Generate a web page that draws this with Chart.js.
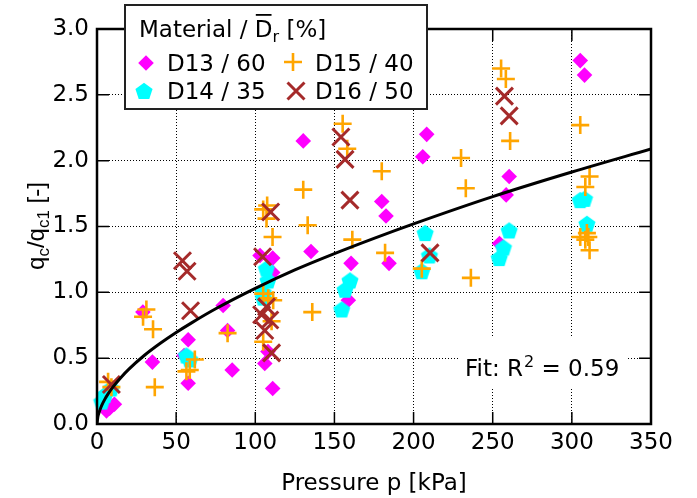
<!DOCTYPE html>
<html><head><meta charset="utf-8">
<script src="https://cdn.jsdelivr.net/npm/chart.js@4/dist/chart.umd.min.js"></script>
<style>html,body{margin:0;padding:0;background:#fff;overflow:hidden}</style>
</head><body>
<canvas id="c" width="697" height="498"></canvas>
<script>
// ---- data ----
const xTicks = [0, 50, 100, 150, 200, 250, 300, 350];
const yTicks = [0.0, 0.5, 1.0, 1.5, 2.0, 2.5, 3.0];

const d13P = [6, 8, 11, 29, 35, 55, 57.6, 57.6, 79.7, 82.5, 85.4, 103, 111, 111, 108, 106, 111, 130.3, 135.2, 160.5, 158.8, 179.9, 182.6, 184.5, 208.3, 205.8, 260.4, 258.5, 254.3, 305.3, 308];
const d13Q = [0.10, 0.12, 0.15, 0.85, 0.47, 0.52, 0.64, 0.31, 0.90, 0.71, 0.41, 1.28, 1.26, 1.15, 0.55, 0.46, 0.27, 2.15, 1.31, 1.22, 0.94, 1.69, 1.58, 1.22, 2.20, 2.03, 1.88, 1.74, 1.37, 2.76, 2.65];

const d14P = [3, 5, 9, 56.5, 58.6, 107, 108, 105, 105, 159.8, 156.7, 154.6, 207.3, 210, 205.2, 260.4, 256.8, 254.1, 305.3, 308, 309.5];
const d14Q = [0.17, 0.22, 0.27, 0.52, 0.49, 1.18, 1.09, 1.00, 0.96, 1.09, 1.02, 0.87, 1.45, 1.28, 1.16, 1.47, 1.34, 1.26, 1.70, 1.71, 1.52];

const d15P = [7, 9.1, 31.2, 29.1, 35.4, 36.5, 56.5, 58.6, 61.8, 82.5, 105, 107.5, 107.1, 110.9, 108.2, 111.3, 105, 110.3, 105, 136, 130.3, 133.1, 155.2, 158.1, 161.3, 179.9, 182, 205.2, 230, 233, 236.2, 255.3, 258.3, 261, 305.3, 311.2, 308.5, 305.3, 308.5, 310.4, 311.2, 309.5];
const d15Q = [0.32, 0.28, 0.87, 0.815, 0.72, 0.28, 0.40, 0.41, 0.49, 0.69, 1.63, 1.66, 1.56, 1.42, 0.955, 0.94, 0.99, 0.78, 0.625, 0.85, 1.78, 1.51, 2.28, 2.09, 1.40, 1.92, 1.30, 1.18, 2.02, 1.79, 1.11, 2.70, 2.62, 2.15, 2.27, 1.88, 1.80, 1.42, 1.40, 1.42, 1.32, 1.45];

const d16P = [9.1, 54, 56.9, 59.1, 109.7, 104.6, 107.1, 104, 109.2, 106, 110.3, 154.1, 156.7, 159.8, 210.4, 257.4, 260.4];
const d16Q = [0.30, 1.24, 1.16, 0.86, 1.61, 1.27, 0.89, 0.83, 0.79, 0.71, 0.54, 2.18, 2.01, 1.70, 1.30, 2.49, 2.34];

// fit curve, points
const fitP = [0, 0.5, 1, 2, 3, 5, 7, 10, 15, 20, 30, 40, 50, 60, 75, 100, 125, 150, 175, 200, 250, 300, 350];
const fitQ = [0, 0.052, 0.076, 0.112, 0.142, 0.189, 0.229, 0.280, 0.352, 0.415, 0.522, 0.613, 0.695, 0.770, 0.875, 1.030, 1.170, 1.294, 1.410, 1.520, 1.727, 1.914, 2.089];

const seriesLabels = ['D13 / 60', 'D14 / 35', 'D15 / 40', 'D16 / 50'];

// ---- styling ----
const FONT = '"DejaVu Sans", sans-serif';
const FONT2 = '"Liberation Sans", Arial, sans-serif';
const FS = 23;
const pts = (ps, qs) => ps.map((p, i) => ({x: p, y: qs[i]}));

const pent = document.createElement('canvas');
pent.width = 20; pent.height = 20;
(function(){
  const g = pent.getContext('2d');
  g.fillStyle = '#00ffff';
  g.beginPath();
  for (let k = 0; k < 5; k++) {
    const a = -Math.PI / 2 + k * 2 * Math.PI / 5;
    const x = 10 + 9 * Math.cos(a), y = 10.8 + 9 * Math.sin(a);
    k ? g.lineTo(x, y) : g.moveTo(x, y);
  }
  g.closePath(); g.fill();
})();

const styles = [
  {pointStyle: 'rectRot', radius: 7.8, fill: '#ff00ff', stroke: '#ff00ff', bw: 0},
  {pointStyle: pent, radius: 9, fill: '#00ffff', stroke: '#00ffff', bw: 0},
  {pointStyle: 'cross', radius: 9, fill: '#ffa500', stroke: '#ffa500', bw: 2.6},
  {pointStyle: 'crossRot', radius: 12, fill: '#a52a2a', stroke: '#a52a2a', bw: 3}
];
const series = [pts(d13P, d13Q), pts(d14P, d14Q), pts(d15P, d15Q), pts(d16P, d16Q)];

const datasets = series.map((data, i) => ({
  label: seriesLabels[i],
  data,
  pointStyle: styles[i].pointStyle,
  pointRadius: styles[i].radius,
  pointHoverRadius: styles[i].radius,
  backgroundColor: styles[i].fill,
  borderColor: styles[i].stroke,
  borderWidth: styles[i].bw,
  showLine: false,
  clip: false,
  order: 4 - i
}));
datasets.push({
  label: 'fit',
  data: pts(fitP, fitQ),
  showLine: true,
  borderColor: '#000',
  borderWidth: 3,
  pointRadius: 0,
  cubicInterpolationMode: 'monotone',
  fill: false,
  order: 0
});

function drawSegs(ctx, segs, x, y) {
  let cx = x;
  for (const s of segs) {
    ctx.font = s[1] + 'px ' + (s[3] || FONT);
    ctx.fillText(s[0], cx, y + (s[2] || 0));
    cx += ctx.measureText(s[0]).width;
  }
  return cx;
}
function segsWidth(ctx, segs) {
  let w = 0;
  for (const s of segs) { ctx.font = s[1] + 'px ' + (s[3] || FONT); w += ctx.measureText(s[0]).width; }
  return w;
}

const deco = {
  id: 'deco',
  beforeDatasetsDraw(chart) {
    // white background behind the fit annotation (hides grid there)
    const ctx = chart.ctx;
    ctx.save();
    ctx.fillStyle = '#fff';
    ctx.fillRect(458, 338, 168, 50);
    ctx.restore();
  },
  afterDatasetsDraw(chart) {
    const ctx = chart.ctx, a = chart.chartArea;
    const xs = chart.scales.x, ys = chart.scales.y;
    ctx.save();
    ctx.strokeStyle = '#000';
    ctx.lineWidth = 1.5;
    ctx.beginPath();
    xTicks.forEach(v => {
      const px = xs.getPixelForValue(v);
      ctx.moveTo(px, a.bottom); ctx.lineTo(px, a.bottom - 12);
      ctx.moveTo(px, a.top); ctx.lineTo(px, a.top + 12);
    });
    yTicks.forEach(v => {
      const py = ys.getPixelForValue(v);
      ctx.moveTo(a.left, py); ctx.lineTo(a.left + 12, py);
      ctx.moveTo(a.right, py); ctx.lineTo(a.right - 12, py);
    });
    ctx.stroke();
    ctx.lineWidth = 2.5;
    ctx.strokeRect(a.left, a.top, a.right - a.left, a.bottom - a.top);
    ctx.restore();
  },
  afterDraw(chart) {
    const ctx = chart.ctx;
    ctx.save();
    ctx.textBaseline = 'alphabetic';
    ctx.textAlign = 'left';

    // legend box
    const L = {x: 125, y: 5, w: 302, h: 104};
    ctx.fillStyle = '#fff';
    ctx.fillRect(L.x, L.y, L.w, L.h);
    ctx.strokeStyle = '#222';
    ctx.lineWidth = 2;
    ctx.strokeRect(L.x, L.y, L.w, L.h);
    ctx.fillStyle = '#000';
    let cx = drawSegs(ctx, [['Material / ', FS]], 139, 37);
    ctx.font = FS + 'px ' + FONT;
    const dW = ctx.measureText('D').width;
    ctx.fillText('D', cx, 37);
    ctx.fillRect(cx + 1, 14, dW - 2, 1.8);
    cx += dW;
    drawSegs(ctx, [['r', 16, 5], [' [%]', FS]], cx, 37);

    const pos = [[146, 63, 167, 71], [144, 91, 167, 99], [293, 62, 315, 71], [296, 91, 315, 99]];
    for (let i = 0; i < 4; i++) {
      const st = styles[i];
      ctx.fillStyle = st.fill; ctx.strokeStyle = st.stroke; ctx.lineWidth = st.bw;
      Chart.helpers.drawPoint(ctx, {pointStyle: st.pointStyle, radius: st.radius, borderWidth: st.bw, rotation: 0}, pos[i][0], pos[i][1]);
      ctx.fillStyle = '#000';
      ctx.font = FS + 'px ' + FONT;
      ctx.fillText(seriesLabels[i], pos[i][2], pos[i][3]);
    }

    // fit text
    ctx.fillStyle = '#000';
    cx = drawSegs(ctx, [['Fit: R', FS]], 465, 376);
    cx = drawSegs(ctx, [['2', 16, -9]], cx + 1, 376);
    drawSegs(ctx, [[' = 0.59', FS]], cx, 376);

    // y title rotated
    ctx.save();
    ctx.translate(44, 226);
    ctx.rotate(-Math.PI / 2);
    const segs = [['q', 24, 0, FONT2], ['c', 17, 5, FONT2], ['/q', 24, 0, FONT2], ['c1', 17, 5, FONT2], [' [-]', 24, 0, FONT2]];
    const w = segsWidth(ctx, segs);
    drawSegs(ctx, segs, -w / 2, 0);
    ctx.restore();

    ctx.restore();
  }
};

new Chart(document.getElementById('c'), {
  type: 'scatter',
  data: {datasets},
  options: {
    responsive: false,
    animation: false,
    devicePixelRatio: 1,
    layout: {padding: {left: 0, right: 46, top: 29, bottom: 0}},
    plugins: {legend: {display: false}, tooltip: {enabled: false}},
    scales: {
      x: {
        type: 'linear', min: 0, max: 350,
        afterBuildTicks(s) { s.ticks = xTicks.map(v => ({value: v})); },
        ticks: {font: {family: FONT, size: FS}, color: '#000', padding: 5, maxRotation: 0, autoSkip: false},
        grid: {color: '#000', lineWidth: 1, drawTicks: false},
        border: {display: false, dash: [1, 2]},
        title: {display: true, text: 'Pressure p [kPa]', font: {family: FONT, size: FS}, color: '#000', padding: {top: 8, bottom: 0}},
        afterFit(s) { s.height = 74; }
      },
      y: {
        type: 'linear', min: 0, max: 3,
        afterBuildTicks(s) { s.ticks = yTicks.map(v => ({value: v})); },
        ticks: {font: {family: FONT, size: FS}, color: '#000', padding: 8, callback: v => Number(v).toFixed(1), autoSkip: false},
        grid: {color: '#000', lineWidth: 1, drawTicks: false},
        border: {display: false, dash: [1, 2]},
        afterFit(s) { s.width = 97; }
      }
    }
  },
  plugins: [deco]
});
</script>
</body></html>
